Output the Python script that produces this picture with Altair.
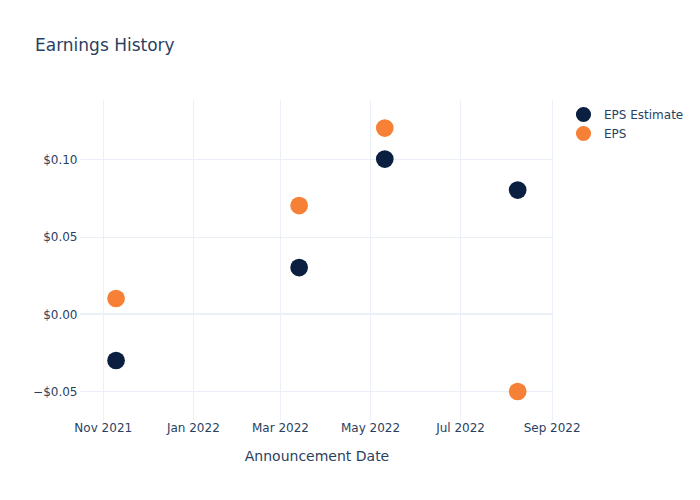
import altair as alt
import pandas as pd

dates = ["2021-11-10", "2022-03-14", "2022-05-11", "2022-08-09"]
eps_estimate = [-0.03, 0.03, 0.10, 0.08]
eps_actual = [0.01, 0.07, 0.12, -0.05]
series_names = ["EPS Estimate", "EPS"]
series_colors = ["#0b1f41", "#f68136"]

rows = []
for d, v in zip(dates, eps_estimate):
    rows.append({"date": d, "value": v, "series": series_names[0]})
for d, v in zip(dates, eps_actual):
    rows.append({"date": d, "value": v, "series": series_names[1]})
df = pd.DataFrame(rows)

TEXT = "#2a3f5f"
GRID = "#ebf0f8"
FONT = "DejaVu Sans"

x_ticks = [
    alt.DateTime(year=2021, month=11, date=1, utc=True),
    alt.DateTime(year=2022, month=1, date=1, utc=True),
    alt.DateTime(year=2022, month=3, date=1, utc=True),
    alt.DateTime(year=2022, month=5, date=1, utc=True),
    alt.DateTime(year=2022, month=7, date=1, utc=True),
    alt.DateTime(year=2022, month=9, date=1, utc=True),
]
x_domain = [
    alt.DateTime(year=2021, month=10, date=16, hours=14, utc=True),
    alt.DateTime(year=2022, month=9, date=1, hours=22, utc=True),
]

x = alt.X(
    "date:T",
    title="Announcement Date",
    scale=alt.Scale(type="utc", domain=x_domain),
    axis=alt.Axis(
        values=x_ticks, format="%b %Y", grid=True, gridColor=GRID, domain=False,
        ticks=False, labelPadding=2, labelColor=TEXT, labelFontSize=12,
        labelFont=FONT, titleFont=FONT, titleFontSize=14, titleColor=TEXT,
        titleFontWeight="normal", titlePadding=16, labelFlush=False,
    ),
)
y = alt.Y(
    "value:Q",
    title=None,
    scale=alt.Scale(domain=[-0.0684, 0.1381], nice=False, zero=False),
    axis=alt.Axis(
        values=[-0.05, 0, 0.05, 0.1], format="$.2f", grid=True, gridColor=GRID,
        domain=False, ticks=False, labelPadding=3, labelColor=TEXT,
        labelFontSize=12, labelFont=FONT,
    ),
)

points = alt.Chart(df).mark_circle(size=314, opacity=1).encode(
    x=x,
    y=y,
    color=alt.Color(
        "series:N",
        scale=alt.Scale(domain=series_names, range=series_colors),
        legend=alt.Legend(
            title=None, orient="none", legendX=495, legendY=6,
            symbolType="circle", symbolSize=230, symbolOpacity=1,
            labelFont=FONT, labelFontSize=12, labelColor=TEXT,
            labelOffset=12, rowPadding=2, padding=0,
        ),
    ),
)

zero = alt.Chart(pd.DataFrame({"z": [0]})).mark_rule(color=GRID, strokeWidth=2).encode(
    y=alt.Y("z:Q", scale=alt.Scale(domain=[-0.0684, 0.1381], nice=False, zero=False))
)

chart = alt.layer(zero, points).properties(
    width=473,
    height=320,
    autosize=alt.AutoSizeParams(type="none"),
    padding={"left": 80, "top": 100, "right": 147, "bottom": 80},
    background="white",
    title=alt.TitleParams(
        "Earnings History", anchor="start", frame="group", dx=-45, dy=-41,
        font=FONT, fontSize=17, fontWeight="normal", color=TEXT,
    ),
).configure_view(stroke=None)

chart.save("out.html", embed_options={"renderer": "svg", "actions": False})
